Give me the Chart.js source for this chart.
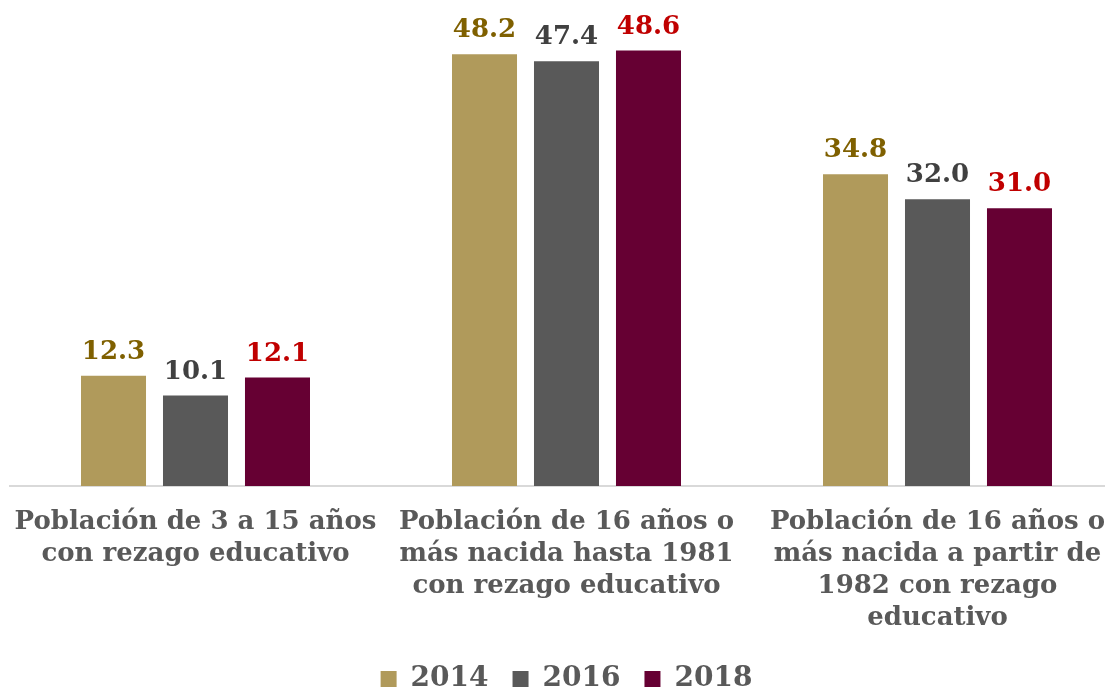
<!DOCTYPE html>
<html>
<head>
<meta charset="utf-8">
<script src="https://cdn.jsdelivr.net/npm/chart.js@4.4.1/dist/chart.umd.min.js"></script>
<style>
  html, body { margin: 0; padding: 0; background: #fff; overflow: hidden; }
  #wrap { width: 1135px; height: 703px; position: relative; }
</style>
</head>
<body>
<div id="wrap"><canvas id="myChart"></canvas></div>
<script>
const categories = [
    ['Población de 3 a 15 años', 'con rezago educativo'],
    ['Población de 16 años o', 'más nacida hasta 1981', 'con rezago educativo'],
    ['Población de 16 años o', 'más nacida a partir de', '1982 con rezago', 'educativo']
];
const years = ['2014', '2016', '2018'];
const values2014 = [12.3, 48.2, 34.8];
const values2016 = [10.1, 47.4, 32.0];
const values2018 = [12.1, 48.6, 31.0];

const barColors = ['#B09A5B', '#595959', '#660033'];
const labelColors = ['#7F6000', '#404040', '#C00000'];
const fontFamily = "'DejaVu Serif', 'Liberation Serif', serif";

// draws the value above each bar
const valueLabels = {
    id: 'valueLabels',
    afterDatasetsDraw(chart) {
        const ctx = chart.ctx;
        ctx.save();
        ctx.font = `bold 26px ${fontFamily}`;
        ctx.textAlign = 'center';
        ctx.textBaseline = 'alphabetic';
        chart.data.datasets.forEach((ds, i) => {
            const meta = chart.getDatasetMeta(i);
            ctx.fillStyle = labelColors[i];
            meta.data.forEach((bar, j) => {
                ctx.fillText(ds.data[j].toFixed(1), bar.x, bar.y - 17);
            });
        });
        ctx.restore();
    }
};

const ctx = document.getElementById('myChart').getContext('2d');

new Chart(ctx, {
    type: 'bar',
    data: {
        labels: categories,
        datasets: [
            { label: years[0], data: values2014, backgroundColor: barColors[0] },
            { label: years[1], data: values2016, backgroundColor: barColors[1] },
            { label: years[2], data: values2018, backgroundColor: barColors[2] }
        ]
    },
    options: {
        responsive: true,
        maintainAspectRatio: false,
        animation: false,
        categoryPercentage: 0.663,
        barPercentage: 0.793,
        layout: { padding: { top: 38, left: 10, right: 12, bottom: 0 } },
        plugins: {
            tooltip: { enabled: false },
            legend: {
                position: 'bottom',
                labels: {
                    boxWidth: 16,
                    boxHeight: 16,
                    padding: 24,
                    color: '#595959',
                    font: { family: fontFamily, size: 28, weight: 'bold' }
                }
            }
        },
        scales: {
            x: {
                grid: { display: false, drawTicks: false },
                border: { display: true, color: '#D9D9D9', width: 2 },
                afterFit: scale => {
                    scale.height = 155;
                    scale.paddingLeft = 0;
                    scale.paddingRight = 0;
                },
                ticks: {
                    color: '#595959',
                    padding: 20,
                    maxRotation: 0,
                    autoSkip: false,
                    font: { family: fontFamily, size: 26, weight: 'bold', lineHeight: 1.23 }
                }
            },
            y: {
                display: false,
                min: 0,
                max: 50
            }
        }
    },
    plugins: [valueLabels]
});
</script>
</body>
</html>
